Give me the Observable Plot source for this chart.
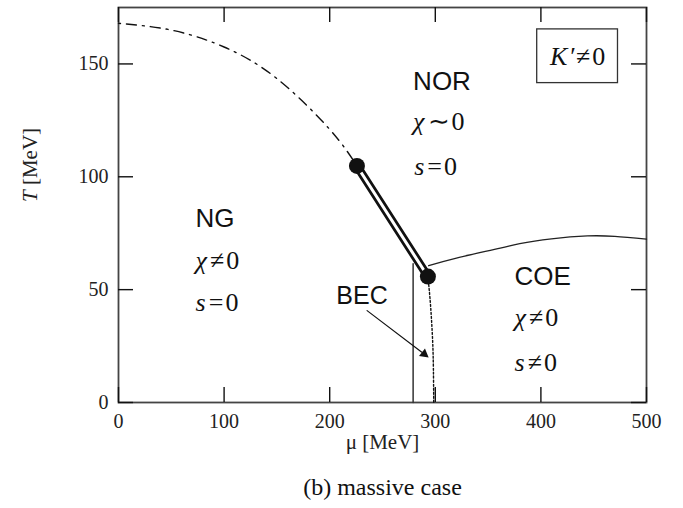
<!DOCTYPE html>
<html>
<head>
<meta charset="utf-8">
<script src="https://cdn.jsdelivr.net/npm/d3@7"></script>
<script src="https://cdn.jsdelivr.net/npm/@observablehq/plot@0.6"></script>
<style>
  html, body { margin: 0; padding: 0; background: #fff; }
  #chart svg { display: block; }
</style>
</head>
<body>
<div id="chart"></div>
<script>
// Axis ticks
const xTicks = [0, 100, 200, 300, 400, 500];
const yTicks = [0, 50, 100, 150];

// Crossover (dash-dot) line: mu, T
const crossMu = [0, 50, 100, 150, 200, 225.8];
const crossT  = [168, 165, 157.5, 143.5, 121, 104.8];

// First-order (double) line between the two critical points
const firstMu = [225.8, 293];
const firstT  = [104.8, 55.8];

// Critical end points
const critMu = [225.8, 293];
const critT  = [104.8, 55.8];

// NOR–COE boundary (solid thin)
const corMu = [293.7, 320, 361.5, 380, 410, 444, 470, 500];
const corT  = [60.6, 64, 68.4, 70.4, 72.5, 73.8, 73.6, 72.4];

// NG–COE boundary (vertical solid)
const ngMu = [279, 279];
const ngT  = [0, 61.5];

// BEC (dotted) line
const becMu = [293, 295, 296.5, 297.6, 298.2, 298.5];
const becT  = [55.8, 46, 36, 26, 15, 0];

// Region labels
const regionNames = ["NOR", "NG", "COE"];
const regionMu = [279, 73, 375];
const regionT  = [142.3, 81.3, 55.7];
const chiLabels = ["χ∼0", "χ≠0", "χ≠0"];
const chiMu = [279, 73, 375];
const chiT  = [124.5, 62.8, 37.6];
const sLabels = ["s=0", "s=0", "s≠0"];
const sMu = [280, 73, 375];
const sT  = [104.3, 44.2, 17.7];

// BEC annotation
const becLabel = "BEC";
const becLabelMu = 230.6, becLabelT = 47.3;
const arrowFrom = [235.4, 40.7];
const arrowTo = [289.5, 21.5];

// Box "K'≠0"
const boxLabel = "K′≠0";
const boxMu = [396.5, 473];
const boxT = [141.5, 165.3];

const xLabel = "μ [MeV]";
const yLabel = "T [MeV]";
const caption = "(b) massive case";

const toPts = (xs, ys) => xs.map((x, i) => ({x, y: ys[i]}));

const serif = "'Liberation Serif', 'Times New Roman', serif";
const sans = "'Liberation Sans', Arial, sans-serif";

const W = 683, H = 508, ML = 118, MR = 37, MT = 7, MB = 106;
const TICK = 15;
const innerW = W - ML - MR, innerH = H - MT - MB;

const chart = Plot.plot({
  width: W,
  height: H,
  marginLeft: ML,
  marginRight: MR,
  marginTop: MT,
  marginBottom: MB,
  x: {domain: [0, 500]},
  y: {domain: [0, 175]},
  style: {fontFamily: serif, fontSize: "20px", color: "#222", background: "#fff"},
  marks: [
    // tick labels
    Plot.axisX(xTicks, {anchor: "bottom", tickSize: 0, tickPadding: 11, label: null, fontSize: 20, fontFamily: serif}),
    Plot.axisY(yTicks, {anchor: "left", tickSize: 0, tickPadding: 10, label: null, fontSize: 20, fontFamily: serif}),
    Plot.frame({stroke: "#444", strokeWidth: 1.8}),

    // phase boundaries
    Plot.line(toPts(crossMu, crossT), {x: "x", y: "y", curve: "natural", stroke: "#111", strokeWidth: 1.4, strokeDasharray: "10,6,2,6", strokeDashoffset: -8}),
    Plot.line(toPts(corMu, corT), {x: "x", y: "y", curve: "natural", stroke: "#222", strokeWidth: 1.3}),
    Plot.line(toPts(ngMu, ngT), {x: "x", y: "y", stroke: "#333", strokeWidth: 1.5}),
    Plot.line(toPts(becMu, becT), {x: "x", y: "y", curve: "natural", stroke: "#111", strokeWidth: 1.4, strokeDasharray: "2,2"}),
    Plot.line(toPts(firstMu, firstT), {x: "x", y: "y", stroke: "#111", strokeWidth: 8.5}),
    Plot.line(toPts(firstMu, firstT), {x: "x", y: "y", stroke: "#fff", strokeWidth: 3}),
    Plot.dot(toPts(critMu, critT), {x: "x", y: "y", r: 8, fill: "#111", stroke: "none"}),

    // BEC arrow (line + filled triangular head)
    Plot.arrow([{x1: arrowFrom[0], y1: arrowFrom[1], x2: arrowTo[0], y2: arrowTo[1]}],
      {x1: "x1", y1: "y1", x2: "x2", y2: "y2", stroke: "#111", strokeWidth: 1.2, headLength: 0, insetEnd: 3}),
    Plot.dot([{x: arrowTo[0], y: arrowTo[1]}], {x: "x", y: "y", symbol: "triangle", r: 3.6, rotate: 128, fill: "#111", stroke: "none"}),
    Plot.text([becLabel], {x: becLabelMu, y: becLabelT, text: d => d, fontFamily: sans, fontSize: 25, fill: "#111"}),

    // region labels
    Plot.text(regionNames, {x: (d, i) => regionMu[i], y: (d, i) => regionT[i], text: d => d, textAnchor: "start", fontFamily: sans, fontSize: 26, fill: "#111"}),
    Plot.text(chiLabels, {x: (d, i) => chiMu[i], y: (d, i) => chiT[i], text: d => d, textAnchor: "start", fontFamily: serif, fontSize: 26, fill: "#111", className: "mathlab"}),
    Plot.text(sLabels, {x: (d, i) => sMu[i], y: (d, i) => sT[i], text: d => d, textAnchor: "start", fontFamily: serif, fontSize: 26, fill: "#111", className: "mathlab"}),

    // K' box
    Plot.rect([{x1: boxMu[0], x2: boxMu[1], y1: boxT[0], y2: boxT[1]}], {x1: "x1", x2: "x2", y1: "y1", y2: "y2", fill: "#fff", stroke: "#333", strokeWidth: 1.3}),
    Plot.text([boxLabel], {x: (boxMu[0] + boxMu[1]) / 2, y: (boxT[0] + boxT[1]) / 2, text: d => d, fontFamily: serif, fontSize: 26, fill: "#111", className: "mathlab"}),

    // axis labels and caption
    Plot.text([xLabel], {frameAnchor: "bottom", dy: 46, text: d => d, fontFamily: serif, fontSize: 21, fill: "#222"}),
    Plot.text([yLabel], {frameAnchor: "left", dx: -88, dy: -3, rotate: -90, text: d => d, fontFamily: serif, fontSize: 21, fill: "#222", className: "axlab"}),
    Plot.text([caption], {frameAnchor: "bottom", dy: 92, text: d => d, fontFamily: serif, fontSize: 24, fill: "#111"}),

    // inward ticks on all four sides (drawn last)
    Plot.tickX(xTicks, {x: d => d, insetTop: innerH - TICK, stroke: "#111", strokeWidth: 1.4}),
    Plot.tickX(xTicks, {x: d => d, insetBottom: innerH - TICK, stroke: "#111", strokeWidth: 1.4}),
    Plot.tickY(yTicks, {y: d => d, insetRight: innerW - TICK, stroke: "#111", strokeWidth: 1.4}),
    Plot.tickY(yTicks, {y: d => d, insetLeft: innerW - TICK, stroke: "#111", strokeWidth: 1.4})
  ]
});

document.getElementById("chart").appendChild(chart);

// italicise the leading math symbol and space out the relation sign (real text kept)
d3.select(chart).selectAll("g.mathlab text").each(function() {
  const t = d3.select(this);
  const s = t.text();
  const first = s[0];
  const rel = s.slice(1, -1);
  const last = s.slice(-1);
  t.text(null);
  t.append("tspan").attr("font-style", "italic").text(first);
  t.append("tspan").attr("dx", 3).text(rel);
  t.append("tspan").attr("dx", 2).text(last);
});
d3.select(chart).selectAll("g.axlab text").each(function() {
  const t = d3.select(this);
  const s = t.text();
  t.text(null);
  t.append("tspan").attr("font-style", "italic").text(s[0]);
  t.append("tspan").text(s.slice(1));
});
</script>
</body>
</html>
